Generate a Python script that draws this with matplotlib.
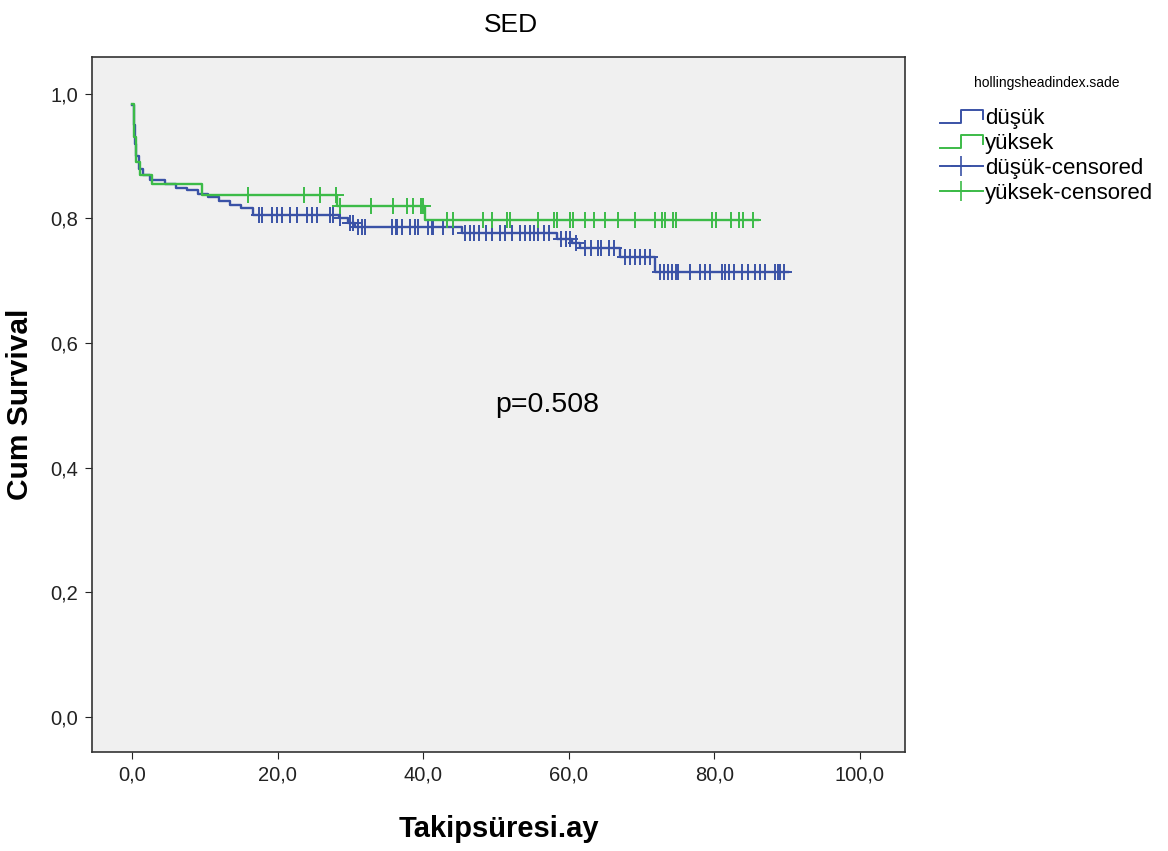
import numpy as np
import matplotlib
matplotlib.use("Agg")
import matplotlib.pyplot as plt
from matplotlib.lines import Line2D
from matplotlib.legend_handler import HandlerBase

plt.rcParams["font.family"] = ["Liberation Sans", "DejaVu Sans"]

# Kaplan-Meier step data (time in months, survival after the event)
low_t = [0, 0.2, 0.4, 0.6, 0.9, 1.5, 2.5, 4.5, 6.0, 7.5, 9.0, 10.5, 12.0, 13.5, 15.0,
         16.6, 28.5, 29.7, 30.6, 45.3, 58.4, 60.5, 61.5, 67.0, 71.8]
low_s = [0.982, 0.95, 0.92, 0.90, 0.88, 0.87, 0.862, 0.855, 0.849, 0.845, 0.840, 0.835,
         0.828, 0.822, 0.816, 0.806, 0.800, 0.793, 0.786, 0.776, 0.767, 0.760, 0.752,
         0.738, 0.714]
low_end = 90.1
low_cens = [17.5, 17.8, 19.2, 19.9, 20.6, 21.7, 22.6, 24.0, 24.7, 25.4, 27.2, 27.6, 28.6,
            30.0, 30.4, 31.0, 31.6, 32.0, 35.7, 36.2, 36.4, 37.1, 38.2, 38.9, 39.3, 40.7,
            41.2, 41.3, 42.7, 44.1, 45.7, 46.4, 47.0, 47.7, 48.6, 49.4, 50.5, 51.2, 52.2,
            53.3, 54.0, 54.7, 55.2, 55.8, 56.6, 57.3, 59.0, 59.6, 60.2, 61.0, 62.2, 63.0,
            64.0, 64.5, 65.5, 66.2, 67.7, 68.4, 69.1, 69.8, 70.5, 71.2, 72.5, 73.1, 73.6,
            74.2, 74.8, 75.0, 76.6, 78.0, 78.7, 79.4, 81.0, 81.5, 82.0, 82.7, 83.8, 84.6,
            85.6, 86.3, 86.9, 88.3, 88.7, 89.0, 89.6]

high_t = [0, 0.3, 0.6, 1.1, 2.7, 9.6, 28.2, 40.2]
high_s = [0.984, 0.93, 0.89, 0.870, 0.856, 0.838, 0.820, 0.798]
high_end = 86.0
high_cens = [15.9, 23.6, 25.8, 28.0, 28.6, 32.8, 35.9, 37.8, 38.6, 39.7, 40.0, 43.3, 44.1,
             48.2, 49.5, 51.5, 51.9, 55.8, 58.0, 58.4, 60.2, 60.6, 62.2, 63.5, 65.0, 66.8,
             69.1, 71.8, 72.8, 73.2, 74.3, 74.7, 79.7, 80.2, 82.3, 83.4, 83.9, 85.3]

BLUE = "#3a52a6"
GREEN = "#3cbb48"


def surv_at(t, times, surv):
    idx = np.searchsorted(times, t, side="right") - 1
    return np.array(surv)[idx]


class StepHandler(HandlerBase):
    def create_artists(self, legend, orig_handle, x0, y0, w, h, fontsize, trans):
        xs = [x0, x0 + w * 0.5, x0 + w * 0.5, x0 + w, x0 + w]
        ys = [y0 + h * 0.1, y0 + h * 0.1, y0 + h * 0.9, y0 + h * 0.9, y0 + h * 0.35]
        ln = Line2D(xs, ys, color=orig_handle.get_color(), lw=1.4, transform=trans)
        return [ln]


fig = plt.figure(figsize=(11.68, 8.51), dpi=100)
ax = fig.add_axes([0.0788, 0.1163, 0.696, 0.8167])
ax.set_facecolor("#f0f0f0")

for t, s, end, cens, c in [(low_t, low_s, low_end, low_cens, BLUE),
                           (high_t, high_s, high_end, high_cens, GREEN)]:
    xs = list(t) + [end]
    ys = list(s) + [s[-1]]
    ax.step(xs, ys, where="post", color=c, lw=1.7)
    ax.plot(cens, surv_at(cens, t, s), "+", color=c, ms=11, mew=1.4, linestyle="none")

ax.set_xlim(-5.5, 106.2)
ax.set_ylim(-0.056, 1.059)
ax.set_xticks([0, 20, 40, 60, 80, 100])
ax.set_xticklabels(["0,0", "20,0", "40,0", "60,0", "80,0", "100,0"])
ax.set_yticks([0, 0.2, 0.4, 0.6, 0.8, 1.0])
ax.set_yticklabels(["0,0", "0,2", "0,4", "0,6", "0,8", "1,0"])
ax.tick_params(direction="out", length=5, labelsize=14.5, colors="#222222", pad=5)
for sp in ax.spines.values():
    sp.set_color("#333333")
    sp.set_linewidth(1.2)

ax.set_xlabel("Takipsüresi.ay", fontsize=21, fontweight="bold", labelpad=22)
ax.set_ylabel("Cum Survival", fontsize=21.5, fontweight="bold", labelpad=12)
ax.set_title("SED", fontsize=19, pad=18, x=0.515)
ax.text(57.1, 0.50, "p=0.508", fontsize=20.5, ha="center", va="center")

handles = [Line2D([], [], color=BLUE), Line2D([], [], color=GREEN),
           Line2D([], [], color=BLUE, marker="+", ms=15, mew=1.2, lw=1.4),
           Line2D([], [], color=GREEN, marker="+", ms=15, mew=1.2, lw=1.4)]
labels = ["düşük", "yüksek", "düşük-censored", "yüksek-censored"]
leg = fig.legend(handles, labels, loc="upper left", bbox_to_anchor=(0.788, 0.934),
                 frameon=False, fontsize=16, title="hollingsheadindex.sade",
                 title_fontsize=10, handlelength=1.9, handletextpad=0.1,
                 labelspacing=0.18,
                 handler_map={handles[0]: StepHandler(), handles[1]: StepHandler()})
leg._legend_box.align = "center"
leg._legend_box.sep = 13

fig.savefig("out.png", dpi=100, facecolor="white")
